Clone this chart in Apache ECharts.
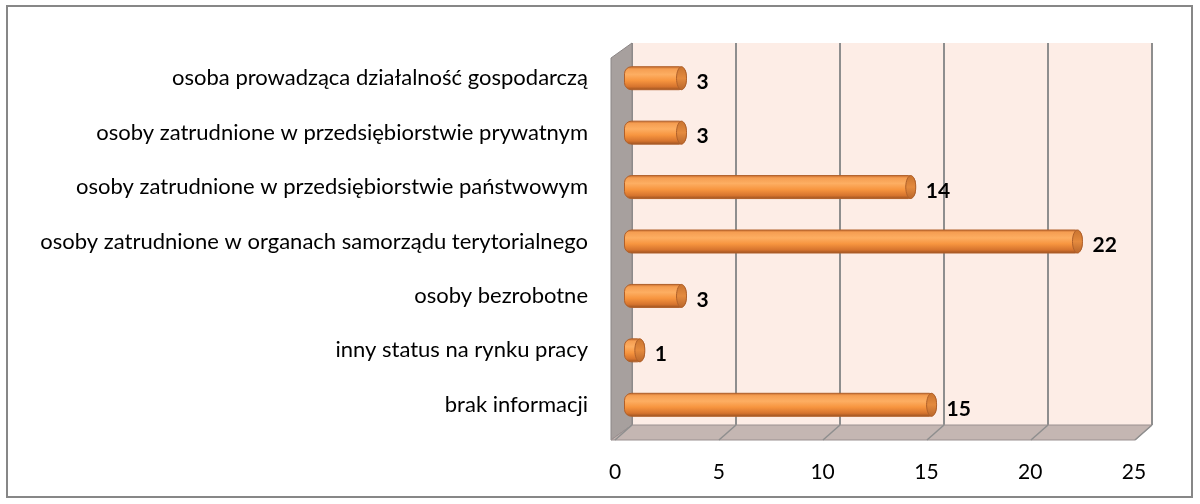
<!DOCTYPE html>
<html>
<head>
<meta charset="utf-8">
<script src="https://cdn.jsdelivr.net/npm/echarts@6/dist/echarts.min.js"></script>
<style>
  html, body { margin: 0; padding: 0; background: #fff; }
  #chart { width: 1200px; height: 504px; }
</style>
</head>
<body>
<div id="chart"></div>
<script>
// categories top to bottom
var categories = [
  'osoba prowadząca działalność gospodarczą',
  'osoby zatrudnione w przedsiębiorstwie prywatnym',
  'osoby zatrudnione w przedsiębiorstwie państwowym',
  'osoby zatrudnione w organach samorządu terytorialnego',
  'osoby bezrobotne',
  'inny status na rynku pracy',
  'brak informacji'
];
var values = [3, 3, 14, 22, 3, 1, 15];
var tickValues = [0, 5, 10, 15, 20, 25];

var font = 'Lato, "Open Sans", sans-serif';

var myChart = echarts.init(document.getElementById('chart'));

// cylinder look for the bars
var barColor = new echarts.graphic.LinearGradient(0, 0, 0, 1, [
  { offset: 0, color: '#c0662a' },
  { offset: 0.12, color: '#f59e52' },
  { offset: 0.35, color: '#fdae62' },
  { offset: 0.6, color: '#f7953f' },
  { offset: 0.85, color: '#d6742e' },
  { offset: 1, color: '#964e1f' }
]);
var capColor = new echarts.graphic.LinearGradient(0, 0, 0, 1, [
  { offset: 0, color: '#c8732f' },
  { offset: 0.5, color: '#e48a3e' },
  { offset: 1, color: '#b8652a' }
]);

var option = {
  animation: false,
  backgroundColor: '#fff',
  grid: [
    // back wall
    { left: 632, right: 48, top: 43, bottom: 79, show: true, backgroundColor: '#fdede6', borderWidth: 0 },
    // bars
    { left: 624, right: 55, top: 51, bottom: 72 },
    // front edge with the tick labels
    { left: 615, right: 66, top: 43, bottom: 64 }
  ],
  xAxis: [
    {
      gridIndex: 0, type: 'value', min: 0, max: 25, interval: 5,
      axisLine: { show: false }, axisTick: { show: false }, axisLabel: { show: false },
      splitLine: { show: true, lineStyle: { color: '#8e8e8e', width: 2 } }
    },
    {
      gridIndex: 1, type: 'value', min: 0, max: 25, interval: 5,
      axisLine: { show: false }, axisTick: { show: false }, axisLabel: { show: false },
      splitLine: { show: false }
    },
    {
      gridIndex: 2, type: 'value', min: 0, max: 25, interval: 5,
      axisLine: { show: false }, axisTick: { show: false }, splitLine: { show: false },
      axisLabel: { show: true, margin: 22, color: '#000', fontSize: 21, fontFamily: font }
    }
  ],
  yAxis: [
    { gridIndex: 0, type: 'value', min: 0, max: 1, show: false },
    {
      gridIndex: 1, type: 'category', data: categories, inverse: true,
      axisLine: { show: false }, axisTick: { show: false },
      axisLabel: { margin: 36, color: '#000', fontSize: 22, fontFamily: font, padding: [6, 0, 0, 0] }
    },
    { gridIndex: 2, type: 'value', min: 0, max: 1, show: false }
  ],
  graphic: [
    // outer frame
    { type: 'rect', shape: { x: 7, y: 6, width: 1185, height: 491 },
      style: { fill: 'none', stroke: '#878787', lineWidth: 2 }, z: 0 },
    // left side wall
    { type: 'polygon', shape: { points: [[611, 58], [632, 43], [632, 425], [611, 440]] },
      style: { fill: '#a7a09e', stroke: '#8c8686', lineWidth: 1 }, z: 1 },
    // floor
    { type: 'polygon', shape: { points: [[632, 425], [1152, 425], [1135, 440], [611, 440]] },
      style: { fill: '#c4b6b2', stroke: '#9a9090', lineWidth: 1 }, z: 1 }
  ],
  series: [
    {
      // slanted lines on the floor under each gridline
      type: 'custom',
      xAxisIndex: 0, yAxisIndex: 0,
      data: tickValues,
      z: 3,
      renderItem: function (params, api) {
        var p = api.coord([api.value(0), 0]);
        return {
          type: 'line',
          shape: { x1: p[0], y1: p[1], x2: p[0] - 17, y2: p[1] + 15 },
          style: { stroke: '#8e8e8e', lineWidth: 1.5 }
        };
      }
    },
    {
      type: 'bar',
      xAxisIndex: 1, yAxisIndex: 1,
      data: values,
      barWidth: 24,
      z: 5,
      itemStyle: {
        color: barColor,
        borderColor: '#b0602a',
        borderWidth: 1,
        borderRadius: 7
      },
      label: {
        show: true,
        position: 'right',
        distance: 10,
        offset: [0, 4],
        color: '#000',
        fontSize: 21,
        fontWeight: 'bold',
        fontFamily: font
      }
    },
    {
      // end cap of each cylinder
      type: 'custom',
      xAxisIndex: 1, yAxisIndex: 1,
      data: values.map(function (v, i) { return [v, i]; }),
      z: 6,
      renderItem: function (params, api) {
        var p = api.coord([api.value(0), api.value(1)]);
        return {
          type: 'ellipse',
          shape: { cx: p[0] - 5, cy: p[1], rx: 5, ry: 11.5 },
          style: { fill: capColor, stroke: '#b0602a', lineWidth: 1 }
        };
      }
    }
  ]
};

myChart.setOption(option);
</script>
</body>
</html>
